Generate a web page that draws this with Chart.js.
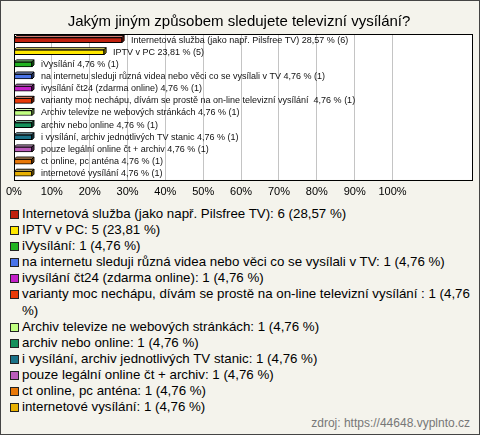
<!DOCTYPE html>
<html>
<head>
<meta charset="utf-8">
<script src="https://cdn.jsdelivr.net/npm/chart.js@4"></script>
<style>
  html, body { margin: 0; padding: 0; }
  body { width: 480px; height: 435px; overflow: hidden; font-family: "Liberation Sans", Arial, sans-serif; }
  #box { position: relative; width: 480px; height: 435px; box-sizing: border-box; border: 1px solid #444; background: #f4f3ec; }
  #chartWrap { position: absolute; left: -1px; top: -1px; width: 480px; height: 205px; }
  #legend { position: absolute; left: 9px; top: 205px; width: 462px; font-size: 13.3px; line-height: 16.1px; color: #000; }
  .item { display: flex; align-items: flex-start; }
  .sq { flex: none; width: 7px; height: 7px; border: 1px solid #222; margin: 4px 3px 0 0; }
  .txt { flex: 1; }
  #source { position: absolute; right: 9px; bottom: 4px; font-size: 12px; color: #777; }
</style>
</head>
<body>
<div id="box">
  <div id="chartWrap"><canvas id="chart"></canvas></div>
  <div id="legend"></div>
  <div id="source">zdroj: https://44648.vyplnto.cz</div>
</div>
<script>
// answers, counts and shares
const names = [
  "Internetová služba (jako např. Pilsfree TV)",
  "IPTV v PC",
  "iVysílání",
  "na internetu sleduji různá videa nebo věci co se vysílali v TV",
  "ivysílání čt24 (zdarma online)",
  "varianty moc nechápu, dívám se prostě na on-line televizní vysílání ",
  "Archiv televize ne webových stránkách",
  "archiv nebo online",
  "i vysílání, archiv jednotlivých TV stanic",
  "pouze legální online čt + archiv",
  "ct online, pc anténa",
  "internetové vysílání"
];
const counts = [6, 5, 1, 1, 1, 1, 1, 1, 1, 1, 1, 1];
const shares = [28.57, 23.81, 4.76, 4.76, 4.76, 4.76, 4.76, 4.76, 4.76, 4.76, 4.76, 4.76];
const colors = [
  "#c0200e", "#ffe800", "#22b422", "#4a74e8", "#c420c8", "#e83a08",
  "#c0ff80", "#14905a", "#1a7288", "#bb5cbb", "#e87808", "#e8b000"
];
const xTicks = [0, 10, 20, 30, 40, 50, 60, 70, 80, 90, 100];

const fmt = v => v.toFixed(2).replace(".", ",");

// small helper for the 3D faces
const shade = (hex, f) => {
  const n = parseInt(hex.slice(1), 16);
  let r = (n >> 16) & 255, g = (n >> 8) & 255, b = n & 255;
  const m = c => Math.max(0, Math.min(255, Math.round(f > 0 ? c + (255 - c) * f : c * (1 + f))));
  return `rgb(${m(r)},${m(g)},${m(b)})`;
};

// white plot area + frame
const plotBox = {
  id: "plotBox",
  beforeDraw(chart) {
    const { ctx, chartArea: a } = chart;
    ctx.save();
    ctx.fillStyle = "#fff";
    ctx.fillRect(a.left, a.top, a.right - a.left, a.bottom - a.top);
    ctx.restore();
  },
  afterDraw(chart) {
    const { ctx, chartArea: a } = chart;
    ctx.save();
    ctx.strokeStyle = "#000";
    ctx.lineWidth = 1;
    ctx.strokeRect(Math.round(a.left) + 0.5, Math.round(a.top) + 0.5, Math.round(a.right - a.left), Math.round(a.bottom - a.top));
    ctx.restore();
  }
};

// fake 3D depth on each bar + value label
const bar3d = {
  id: "bar3d",
  afterDatasetsDraw(chart) {
    const { ctx } = chart;
    const meta = chart.getDatasetMeta(0);
    const d = 2;
    ctx.save();
    meta.data.forEach((bar, i) => {
      const h = bar.height;
      const top = bar.y - h / 2, bottom = bar.y + h / 2;
      const x0 = bar.base, x1 = bar.x;
      ctx.lineWidth = 1;
      ctx.strokeStyle = "#000";
      // top face
      ctx.beginPath();
      ctx.moveTo(x0, top);
      ctx.lineTo(x0 + d, top - d);
      ctx.lineTo(x1 + d, top - d);
      ctx.lineTo(x1, top);
      ctx.closePath();
      ctx.fillStyle = shade(colors[i], 0.45);
      ctx.fill();
      ctx.stroke();
      // right face
      ctx.beginPath();
      ctx.moveTo(x1, top);
      ctx.lineTo(x1 + d, top - d);
      ctx.lineTo(x1 + d, bottom - d);
      ctx.lineTo(x1, bottom);
      ctx.closePath();
      ctx.fillStyle = shade(colors[i], -0.35);
      ctx.fill();
      ctx.stroke();

      ctx.fillStyle = "#111";
      ctx.font = "9px 'Liberation Sans', Arial, sans-serif";
      ctx.textBaseline = "middle";
      ctx.fillText(`${names[i]} ${fmt(shares[i])} % (${counts[i]})`, x1 + 9, bar.y);
    });
    ctx.restore();
  }
};

new Chart(document.getElementById("chart"), {
  type: "bar",
  data: {
    labels: names,
    datasets: [{
      data: shares,
      backgroundColor: colors,
      borderColor: "#000",
      borderWidth: 1,
      borderSkipped: false,
      barThickness: 5
    }]
  },
  options: {
    indexAxis: "y",
    responsive: true,
    maintainAspectRatio: false,
    animation: false,
    layout: { padding: { left: 6, right: 8, top: 0, bottom: 0 } },
    plugins: {
      legend: { display: false },
      tooltip: { enabled: false },
      title: {
        display: true,
        text: "Jakým jiným způsobem sledujete televizní vysílání?",
        color: "#000",
        font: { family: "'Liberation Sans', Arial, sans-serif", size: 15, weight: "normal" },
        padding: { top: 13, bottom: 3 }
      }
    },
    scales: {
      x: {
        min: 0,
        max: 121,
        afterBuildTicks: s => { s.ticks = xTicks.map(v => ({ value: v })); },
        grid: {
          color: c => (c.tick && c.tick.value > 0 ? "#c4c4c4" : "transparent"),
          drawTicks: false
        },
        border: { display: false },
        ticks: {
          color: "#000",
          padding: 6,
          font: { family: "'Liberation Sans', Arial, sans-serif", size: 11 },
          callback: v => v + "%",
          maxRotation: 0,
          autoSkip: false
        }
      },
      y: {
        display: false,
        offset: true
      }
    }
  },
  plugins: [plotBox, bar3d]
});

// HTML legend, built from the same arrays
const legend = document.getElementById("legend");
names.forEach((n, i) => {
  const row = document.createElement("div");
  row.className = "item";
  const sq = document.createElement("span");
  sq.className = "sq";
  sq.style.background = colors[i];
  const t = document.createElement("span");
  t.className = "txt";
  t.textContent = `${n}: ${counts[i]} (${fmt(shares[i])} %)`;
  row.appendChild(sq);
  row.appendChild(t);
  legend.appendChild(row);
});
</script>
</body>
</html>
